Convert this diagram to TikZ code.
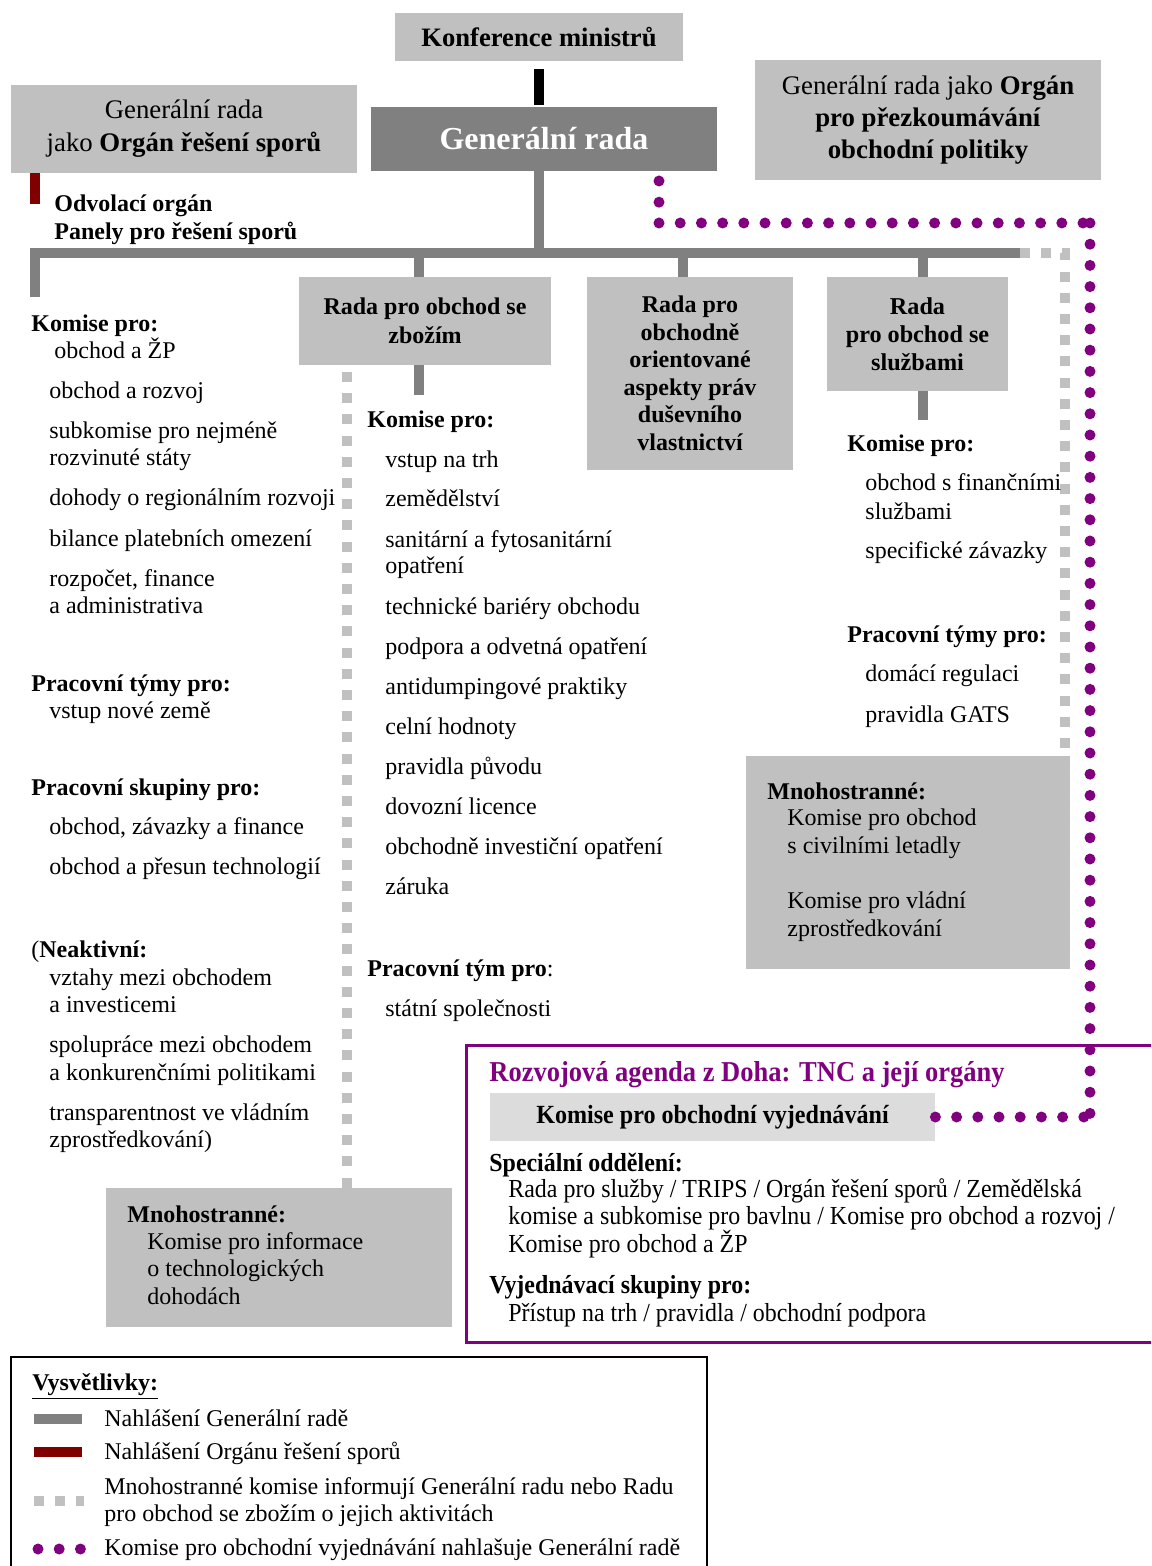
\documentclass[tikz,border=0pt]{standalone}
\usepackage{fontspec}
\setmainfont{Liberation Serif}
\newfontfamily\narrowfont[FakeStretch=0.92]{Liberation Serif}
\usetikzlibrary{positioning}

\definecolor{boxgray}{HTML}{C0C0C0}
\definecolor{bargray}{HTML}{808080}
\definecolor{palegray}{HTML}{DCDCDC}
\definecolor{dsbred}{HTML}{800000}
\definecolor{tncpurple}{HTML}{800080}

\tikzset{
  graybox/.style={fill=boxgray, inner sep=0pt, align=center},
  report/.style={draw=bargray, line width=5pt},
  dsbline/.style={draw=dsbred, line width=5pt},
  infoline/.style={draw=boxgray, line width=5pt, dash pattern=on 5pt off 5.6pt},
  tncline/.style={draw=tncpurple, line width=5.5pt, line cap=round, dash pattern=on 0pt off 10.6pt},
  item/.style={anchor=base west, inner sep=0pt, font=\fontsize{12}{14}\selectfont},
  head/.style={item, font=\fontsize{12}{14}\selectfont\bfseries},
  tncitem/.style={item, font=\fontsize{13}{14}\selectfont\narrowfont},
}

\begin{document}
\begin{tikzpicture}[x=0.5pt,y=-0.5pt]
\clip (0,0) rectangle (1151,1566);

% Boxes at the top
\node[graybox, minimum width=144pt, minimum height=24pt, font=\fontsize{13.3}{15}\selectfont\bfseries] (kon) at (539,37) {Konference ministrů};
\node[fill=bargray, text=white, inner sep=0pt, minimum width=173pt, minimum height=32pt, font=\fontsize{16}{18}\selectfont\bfseries] (gr) at (544,139) {Generální rada};
\node[graybox, minimum width=173pt, minimum height=44pt, font=\fontsize{13.4}{16.5}\selectfont] (ors) at (184,129) {Generální rada\\jako \textbf{Orgán řešení sporů}};
\node[graybox, minimum width=173pt, minimum height=60pt, font=\fontsize{13.4}{16}\selectfont] (prez) at (928,120) {Generální rada jako \textbf{Orgán}\\\textbf{pro přezkoumávání}\\\textbf{obchodní politiky}};

% Councils
\node[graybox, minimum width=126pt, minimum height=44pt, font=\fontsize{12}{14.5}\selectfont\bfseries] (zb) at (425,321) {Rada pro obchod se\\zbožím};
\node[graybox, minimum width=103pt, minimum height=96.5pt, font=\fontsize{12}{13.75}\selectfont\bfseries] (trips) at (690,373.5) {Rada pro\\obchodně\\orientované\\aspekty práv\\duševního\\vlastnictví};
\node[graybox, minimum width=90.5pt, minimum height=57pt, font=\fontsize{12.1}{14}\selectfont\bfseries] (sl) at (917.5,334) {Rada\\pro obchod se\\službami};

% Plurilateral boxes
\node[graybox, minimum width=162pt, minimum height=106.5pt] (mnR) at (908,862.5) {};
\node[graybox, minimum width=173pt, minimum height=69.5pt] (mnL) at (279,1257.5) {};

% Connectors
\coordinate (busL) at (34.5,253);
\coordinate (busR) at (1020,253);
\coordinate (leftdrop) at (34.5,297);
\coordinate (zbend) at (419,395);
\coordinate (slend) at (923,420);
\draw[line width=5pt, shorten <=4pt, shorten >=1pt] (kon.south) -- (kon.south |- gr.north);
\draw[report] (kon.south |- gr.south) -- (kon.south |- busL);
\draw[report] (leftdrop) -- (busL) -- (busR);
\draw[report] (419,0 |- zb.north) -- (419,0 |- busL);
\draw[report] (683,0 |- trips.north) -- (683,0 |- busL);
\draw[report] (923,0 |- sl.north) -- (923,0 |- busL);
\draw[report] (zbend |- zb.south) -- (zbend);
\draw[report] (slend |- sl.south) -- (slend);

\coordinate (dsbend) at (34.5,204);
\draw[dsbline] (dsbend |- ors.south) -- (dsbend);

\coordinate (zbinfo) at (347,372);
\coordinate (infocorner) at (1065,253);
\draw[infoline] (zbinfo) -- (zbinfo |- mnL.north);
\draw[infoline] (busR) -- (infocorner) -- (infocorner |- mnR.north);

\coordinate (tncstart) at (659,181);
\coordinate (tnc1) at (659,223);
\coordinate (tnc2) at (1090,223);
\coordinate (tnc3) at (1090,1117);

% Left column
\node[head] (odv1) at (54,212) {Odvolací orgán};
\node[head] (odv2) at (54,240) {Panely pro řešení sporů};
\foreach \y/\t [count=\i] in {332/Komise pro:, 691/Pracovní týmy pro:, 795/Pracovní skupiny pro:}
  \node[head] (lh-\i) at (31,\y) {\t};
\node[item] (lh-4) at (31,957) {(\textbf{Neaktivní:}};
\node[item] (li-0) at (54,359) {obchod a ŽP};
\foreach \y/\t [count=\i] in {399/obchod a rozvoj, 439/subkomise pro nejméně, 466/rozvinuté státy,
    506/dohody o regionálním rozvoji, 546/bilance platebních omezení, 586/{rozpočet, finance},
    613/a administrativa, 718/vstup nové země, 834/{obchod, závazky a finance},
    874/obchod a přesun technologií, 985/vztahy mezi obchodem, 1012/a investicemi,
    1052/spolupráce mezi obchodem, 1080/a konkurenčními politikami,
    1120/transparentnost ve vládním, 1147/zprostředkování)}
  \node[item] (li-\i) at (49,\y) {\t};

% Middle column
\node[head] (mh-1) at (367,428) {Komise pro:};
\node[item] (mh-2) at (367,976) {\textbf{Pracovní tým pro}:};
\foreach \y/\t [count=\i] in {468/vstup na trh, 507/zemědělství, 547/sanitární a fytosanitární,
    574/opatření, 614/technické bariéry obchodu, 654/podpora a odvetná opatření,
    694/antidumpingové praktiky, 734/celní hodnoty, 774/pravidla původu,
    814/dovozní licence, 854/obchodně investiční opatření, 894/záruka, 1016/státní společnosti}
  \node[item] (mi-\i) at (385,\y) {\t};

% Right column
\node[head] (rh-1) at (847,452) {Komise pro:};
\node[head] (rh-2) at (847,642) {Pracovní týmy pro:};
\foreach \y/\t [count=\i] in {491/obchod s finančními, 519/službami, 559/specifické závazky,
    681/domácí regulaci, 722/pravidla GATS}
  \node[item] (ri-\i) at (865,\y) {\t};

% Plurilateral texts
\node[head] (mnRh) at (767,799) {Mnohostranné:};
\foreach \y/\t [count=\i] in {825/Komise pro obchod, 853/s civilními letadly, 908/Komise pro vládní, 936/zprostředkování}
  \node[item] (mnR-\i) at (787,\y) {\t};
\node[head] (mnLh) at (127,1222) {Mnohostranné:};
\foreach \y/\t [count=\i] in {1249/Komise pro informace, 1276/o technologických, 1304/dohodách}
  \node[item] (mnL-\i) at (147,\y) {\t};

% Doha agenda
\draw[tncpurple, line width=1.5pt] (466,1045) rectangle (1180,1342);
\node[tncitem, text=tncpurple, font=\fontsize{14.4}{15}\selectfont\narrowfont\bfseries] (doha) at (489,1081) {Rozvojová agenda z Doha: TNC a její orgány};
\node[fill=palegray, inner sep=0pt, minimum width=222.5pt, minimum height=24pt, font=\fontsize{13.1}{15}\selectfont\narrowfont\bfseries] (tnc) at (712.5,1117) {Komise pro obchodní vyjednávání};
\node[tncitem, font=\fontsize{13}{14}\selectfont\narrowfont\bfseries] (spec) at (489,1171) {Speciální oddělení:};
\foreach \y/\t [count=\i] in {1197/{Rada pro služby / TRIPS / Orgán řešení sporů / Zemědělská},
    1224/{komise a subkomise pro bavlnu / Komise pro obchod a rozvoj /}, 1252/{Komise pro obchod a ŽP}}
  \node[tncitem] (spec-\i) at (508,\y) {\t};
\node[tncitem, font=\fontsize{13}{14}\selectfont\narrowfont\bfseries] (vyj) at (489,1293) {Vyjednávací skupiny pro:};
\node[tncitem] (vyj-1) at (508,1321) {Přístup na trh / pravidla / obchodní podpora};

\draw[tncline] (tncstart) -- (tnc1);
\draw[tncline] (tnc1) -- (tnc2);
\draw[tncline] (tnc2) -- (tnc3);
\draw[tncline] (tnc.east) -- (tnc3);

% Legend
\draw[line width=1pt] (11,1357) rectangle (707,1620);
\node[head] (leg) at (32,1390) {\underline{Vysvětlivky:}};
\draw[report] (34,1419) -- (82,1419);
\draw[dsbline] (34,1452) -- (82,1452);
\draw[infoline] (34,1501) -- (84,1501);
\draw[tncline] (38,1549) -- (82,1549);
\foreach \y/\t [count=\i] in {1426/Nahlášení Generální radě, 1459/Nahlášení Orgánu řešení sporů,
    1494/Mnohostranné komise informují Generální radu nebo Radu,
    1521/pro obchod se zbožím o jejich aktivitách,
    1555/Komise pro obchodní vyjednávání nahlašuje Generální radě}
  \node[item] (leg-\i) at (104,\y) {\t};
\end{tikzpicture}
\end{document}
